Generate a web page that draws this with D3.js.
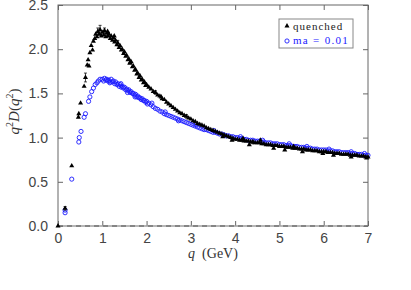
<!DOCTYPE html>
<html lang="en">
<head>
    <meta charset="UTF-8">
    <title>q^2 D(q^2)</title>
    <script src="https://d3js.org/d3.v7.min.js"></script>
    <style>
        body { margin: 0; background: #fff; }
        .tick text { font-family: "Liberation Sans", Arial, sans-serif; font-size: 14px; fill: #444; }
        .tick line { stroke: #666; }
        .domain { display: none; }
    </style>
</head>
<body>
<div id="chart"></div>
<script>
    // quenched: [q, value, error(optional)]
    const quenched = [
        [0.00, 0.00], [0.16, 0.20, 0.02], [0.31, 0.68], [0.46, 1.23], [0.47, 1.27], [0.51, 1.39],
        [0.59, 1.58], [0.62, 1.68, 0.05], [0.66, 1.82], [0.68, 1.88], [0.70, 1.81], [0.72, 1.96],
        [0.75, 2.04], [0.78, 1.99], [0.80, 2.09], [0.83, 2.12], [0.85, 2.17], [0.88, 2.14],
        [0.90, 2.20, 0.04], [0.93, 2.17], [0.95, 2.22, 0.05], [0.98, 2.15], [1.00, 2.19], [1.03, 2.16],
        [1.05, 2.21, 0.03], [1.08, 2.14], [1.10, 2.18], [1.13, 2.15], [1.15, 2.17], [1.18, 2.12],
        [1.20, 2.15], [1.23, 2.10], [1.25, 2.13], [1.28, 2.08], [1.30, 2.10], [1.33, 2.05],
        [1.35, 2.07, 0.03], [1.38, 2.02], [1.40, 2.04], [1.43, 1.99], [1.45, 2.00], [1.48, 1.95],
        [1.50, 1.97], [1.53, 1.92], [1.55, 1.93], [1.58, 1.88], [1.60, 1.89], [1.63, 1.85],
        [1.65, 1.86], [1.68, 1.80], [1.70, 1.81], [1.73, 1.76], [1.75, 1.77], [1.78, 1.72],
        [1.80, 1.73], [1.83, 1.68], [1.85, 1.70], [1.88, 1.65], [1.90, 1.66], [1.93, 1.62],
        [1.95, 1.63], [1.98, 1.59], [2.00, 1.60], [2.05, 1.57], [2.10, 1.55], [2.15, 1.52],
        [2.20, 1.51, 0.02], [2.25, 1.48], [2.30, 1.47], [2.35, 1.44], [2.40, 1.43], [2.45, 1.40],
        [2.50, 1.38], [2.55, 1.36], [2.60, 1.34], [2.65, 1.32], [2.70, 1.30], [2.75, 1.28],
        [2.80, 1.27], [2.85, 1.25], [2.90, 1.24, 0.02], [2.95, 1.22], [3.00, 1.21], [3.05, 1.19],
        [3.10, 1.18], [3.15, 1.16], [3.20, 1.15], [3.25, 1.14], [3.30, 1.13], [3.35, 1.11],
        [3.40, 1.10], [3.45, 1.09], [3.50, 1.08], [3.55, 1.07], [3.60, 1.06], [3.65, 1.05],
        [3.70, 1.04], [3.75, 1.03], [3.80, 1.02], [3.85, 1.01], [3.90, 1.00], [3.95, 0.99],
        [4.00, 0.98], [4.05, 0.98], [4.10, 0.97], [4.15, 0.97], [4.20, 0.96], [4.25, 0.96],
        [4.30, 0.96], [4.35, 0.95], [4.40, 0.95, 0.02], [4.45, 0.94], [4.50, 0.94], [4.55, 0.94],
        [4.60, 0.93], [4.65, 0.93], [4.70, 0.92], [4.75, 0.92], [4.80, 0.92], [4.85, 0.91],
        [4.90, 0.91], [4.95, 0.91], [5.00, 0.90], [5.05, 0.90], [5.10, 0.90], [5.15, 0.89],
        [5.20, 0.89], [5.25, 0.89], [5.30, 0.88], [5.35, 0.88], [5.40, 0.88], [5.45, 0.87],
        [5.50, 0.87], [5.55, 0.87], [5.60, 0.86], [5.65, 0.86], [5.70, 0.86], [5.75, 0.85],
        [5.80, 0.85], [5.85, 0.85], [5.90, 0.84], [5.95, 0.84], [6.00, 0.84], [6.05, 0.84],
        [6.10, 0.83], [6.15, 0.83], [6.20, 0.83], [6.25, 0.82], [6.30, 0.82], [6.35, 0.82],
        [6.40, 0.81], [6.45, 0.81], [6.50, 0.81], [6.55, 0.81], [6.60, 0.80], [6.65, 0.80],
        [6.70, 0.80], [6.75, 0.80], [6.80, 0.79], [6.85, 0.79], [6.90, 0.79], [6.95, 0.78],
        [7.00, 0.78],
        // scattered points around the band
        [1.12, 2.20], [1.27, 2.15], [1.62, 1.84], [2.33, 1.46], [3.72, 1.01], [3.93, 0.97],
        [4.32, 0.92], [4.57, 0.97], [4.87, 0.88], [5.12, 0.86], [5.52, 0.84], [5.98, 0.82],
        [6.22, 0.80], [6.62, 0.78], [6.97, 0.77], [4.18, 0.99], [5.32, 0.90]
    ];

    // ma = 0.01: [q, value]
    const dynamical = [
        [0.16, 0.15], [0.16, 0.18], [0.31, 0.53], [0.47, 0.95], [0.48, 1.00], [0.52, 1.07],
        [0.59, 1.23], [0.62, 1.27], [0.69, 1.41], [0.72, 1.46], [0.76, 1.52], [0.80, 1.56],
        [0.84, 1.60], [0.88, 1.62], [0.91, 1.64], [0.95, 1.66],
        [1.00, 1.66], [1.03, 1.64], [1.05, 1.67], [1.08, 1.65], [1.10, 1.66], [1.13, 1.64],
        [1.15, 1.65], [1.18, 1.63], [1.20, 1.66], [1.23, 1.63], [1.25, 1.64], [1.28, 1.61],
        [1.30, 1.63], [1.33, 1.60], [1.35, 1.61], [1.38, 1.58], [1.40, 1.60], [1.43, 1.57],
        [1.45, 1.58], [1.48, 1.56], [1.50, 1.57], [1.53, 1.54], [1.55, 1.55], [1.58, 1.53],
        [1.60, 1.54], [1.63, 1.51], [1.65, 1.52], [1.68, 1.50], [1.70, 1.50], [1.73, 1.48],
        [1.75, 1.49], [1.78, 1.46], [1.80, 1.47], [1.83, 1.45], [1.85, 1.45], [1.88, 1.43],
        [1.90, 1.44], [1.93, 1.42], [1.95, 1.42], [1.98, 1.40], [2.00, 1.41], [2.05, 1.39],
        [2.10, 1.37], [2.15, 1.35], [2.20, 1.33], [2.25, 1.32], [2.30, 1.30], [2.35, 1.29],
        [2.40, 1.27], [2.45, 1.26], [2.50, 1.25], [2.55, 1.24], [2.60, 1.23], [2.65, 1.22],
        [2.70, 1.21], [2.75, 1.20], [2.80, 1.19], [2.85, 1.18], [2.90, 1.17], [2.95, 1.16],
        [3.00, 1.15], [3.05, 1.14], [3.10, 1.13], [3.15, 1.12], [3.20, 1.11], [3.25, 1.10],
        [3.30, 1.09], [3.35, 1.09], [3.40, 1.08], [3.45, 1.07], [3.50, 1.06], [3.55, 1.06],
        [3.60, 1.05], [3.65, 1.04], [3.70, 1.04], [3.75, 1.03], [3.80, 1.02], [3.85, 1.02],
        [3.90, 1.01], [3.95, 1.01], [4.00, 1.00], [4.05, 1.00], [4.10, 0.99], [4.15, 0.99],
        [4.20, 0.98], [4.25, 0.98], [4.30, 0.97], [4.35, 0.97], [4.40, 0.97], [4.45, 0.96],
        [4.50, 0.96], [4.55, 0.96], [4.60, 0.95], [4.65, 0.95], [4.70, 0.94], [4.75, 0.94],
        [4.80, 0.94], [4.85, 0.93], [4.90, 0.93], [4.95, 0.93], [5.00, 0.92], [5.05, 0.92],
        [5.10, 0.92], [5.15, 0.91], [5.20, 0.91], [5.25, 0.91], [5.30, 0.90], [5.35, 0.90],
        [5.40, 0.90], [5.45, 0.89], [5.50, 0.89], [5.55, 0.89], [5.60, 0.88], [5.65, 0.88],
        [5.70, 0.88], [5.75, 0.87], [5.80, 0.87], [5.85, 0.87], [5.90, 0.86], [5.95, 0.86],
        [6.00, 0.86], [6.05, 0.86], [6.10, 0.85], [6.15, 0.85], [6.20, 0.85], [6.25, 0.84],
        [6.30, 0.84], [6.35, 0.84], [6.40, 0.83], [6.45, 0.83], [6.50, 0.83], [6.55, 0.83],
        [6.60, 0.82], [6.65, 0.82], [6.70, 0.82], [6.75, 0.81], [6.80, 0.81], [6.85, 0.81],
        [6.90, 0.80], [6.95, 0.80], [7.00, 0.80],
        // scatter in the band
        [1.17, 1.62], [1.42, 1.61], [1.57, 1.51], [1.74, 1.46], [2.02, 1.38], [2.12, 1.39],
        [2.42, 1.29], [2.72, 1.19], [3.12, 1.15], [3.52, 1.08], [4.12, 1.01], [4.62, 0.97],
        [5.22, 0.93], [5.62, 0.90], [6.12, 0.87], [6.62, 0.84], [6.92, 0.82]
    ];

    const xTicks = [0, 1, 2, 3, 4, 5, 6, 7];
    const yTicks = [0.0, 0.5, 1.0, 1.5, 2.0, 2.5];
    const legendLabels = ["quenched", "ma = 0.01"];

    const width = 411, height = 290;
    const margin = { top: 5, right: 43, bottom: 64, left: 58 };

    const svg = d3.select("#chart").append("svg")
        .attr("width", width)
        .attr("height", height);

    const x = d3.scaleLinear().domain([0, 7]).range([margin.left, width - margin.right]);
    const y = d3.scaleLinear().domain([0, 2.5]).range([height - margin.bottom, margin.top]);

    // axes with inward ticks on all four sides
    svg.append("g")
        .attr("transform", `translate(0,${y(0)})`)
        .call(d3.axisBottom(x).tickValues(xTicks).tickSize(-5).tickPadding(7).tickFormat(d3.format("d")));
    svg.append("g")
        .attr("transform", `translate(0,${y(2.5)})`)
        .call(d3.axisTop(x).tickValues(xTicks).tickSize(-5).tickFormat(""));
    svg.append("g")
        .attr("transform", `translate(${x(0)},0)`)
        .call(d3.axisLeft(y).tickValues(yTicks).tickSize(-5).tickPadding(10).tickFormat(d3.format(".1f")));
    svg.append("g")
        .attr("transform", `translate(${x(7)},0)`)
        .call(d3.axisRight(y).tickValues(yTicks).tickSize(-5).tickFormat(""));

    // frame
    svg.append("rect")
        .attr("x", x(0)).attr("y", y(2.5))
        .attr("width", x(7) - x(0)).attr("height", y(0) - y(2.5))
        .attr("fill", "none").attr("stroke", "#666").attr("stroke-width", 1);
    // dashed zero line over the bottom edge
    svg.append("line")
        .attr("x1", x(0)).attr("x2", x(7)).attr("y1", y(0)).attr("y2", y(0))
        .attr("stroke", "#bbb").attr("stroke-width", 1.2);
    svg.append("line")
        .attr("x1", x(0)).attr("x2", x(7)).attr("y1", y(0)).attr("y2", y(0))
        .attr("stroke", "#555").attr("stroke-width", 1.2).attr("stroke-dasharray", "5,4");

    const blue = "#1a1aff";
    const triangle = d3.symbol().type(d3.symbolTriangle).size(11);

    // blue open circles
    svg.append("g").selectAll("circle")
        .data(dynamical)
        .join("circle")
        .attr("cx", d => x(d[0]))
        .attr("cy", d => y(d[1]))
        .attr("r", 2.1)
        .attr("fill", "none")
        .attr("stroke", blue)
        .attr("stroke-width", 0.9);

    // error bars on quenched points
    const errs = quenched.filter(d => d[2]);
    const eb = svg.append("g").attr("stroke", "#111").attr("stroke-width", 0.8);
    eb.selectAll("line.v").data(errs).join("line").attr("class", "v")
        .attr("x1", d => x(d[0])).attr("x2", d => x(d[0]))
        .attr("y1", d => y(d[1] - d[2])).attr("y2", d => y(d[1] + d[2]));
    eb.selectAll("line.t").data(errs).join("line").attr("class", "t")
        .attr("x1", d => x(d[0]) - 1.5).attr("x2", d => x(d[0]) + 1.5)
        .attr("y1", d => y(d[1] + d[2])).attr("y2", d => y(d[1] + d[2]));
    eb.selectAll("line.b").data(errs).join("line").attr("class", "b")
        .attr("x1", d => x(d[0]) - 1.5).attr("x2", d => x(d[0]) + 1.5)
        .attr("y1", d => y(d[1] - d[2])).attr("y2", d => y(d[1] - d[2]));

    // black triangles
    svg.append("g").selectAll("path")
        .data(quenched)
        .join("path")
        .attr("transform", d => `translate(${x(d[0])},${y(d[1])})`)
        .attr("d", triangle)
        .attr("fill", "#000");

    // legend
    const lg = svg.append("g");
    lg.append("rect")
        .attr("x", 279).attr("y", 19).attr("width", 74).attr("height", 29)
        .attr("fill", "#fff").attr("stroke", "#888").attr("stroke-width", 1);
    lg.append("path")
        .attr("transform", "translate(287,26)")
        .attr("d", triangle).attr("fill", "#000");
    lg.append("circle")
        .attr("cx", 287).attr("cy", 41).attr("r", 2.1)
        .attr("fill", "none").attr("stroke", blue).attr("stroke-width", 0.9);
    lg.selectAll("text")
        .data(legendLabels)
        .join("text")
        .attr("x", 293)
        .attr("y", (d, i) => 30 + i * 14)
        .attr("font-family", "'Liberation Serif', 'Times New Roman', serif")
        .attr("font-size", "11px")
        .attr("letter-spacing", (d, i) => i === 0 ? "1px" : "1.3px")
        .attr("fill", (d, i) => i === 0 ? "#222" : blue)
        .text(d => d);

    // axis titles
    const xt = svg.append("text")
        .attr("x", (x(0) + x(7)) / 2)
        .attr("y", 258)
        .attr("text-anchor", "middle")
        .attr("font-family", "'Liberation Serif', 'Times New Roman', serif")
        .attr("font-size", "14px")
        .attr("fill", "#333")
        .style("white-space", "pre");
    xt.append("tspan").attr("font-style", "italic").text("q");
    xt.append("tspan").text("  (GeV)");

    const yt = svg.append("text")
        .attr("transform", `translate(19,${(y(0) + y(2.5)) / 2 - 4}) rotate(-90)`)
        .attr("text-anchor", "middle")
        .attr("font-family", "'Liberation Serif', 'Times New Roman', serif")
        .attr("font-size", "15px")
        .attr("font-style", "italic")
        .attr("fill", "#333");
    yt.append("tspan").text("q");
    yt.append("tspan").attr("font-size", "10px").attr("dy", -6).attr("font-style", "normal").text("2");
    yt.append("tspan").attr("dy", 6).text("D");
    yt.append("tspan").attr("font-style", "normal").text("(");
    yt.append("tspan").text("q");
    yt.append("tspan").attr("font-size", "10px").attr("dy", -6).attr("font-style", "normal").text("2");
    yt.append("tspan").attr("dy", 6).attr("font-style", "normal").text(")");
</script>
</body>
</html>
